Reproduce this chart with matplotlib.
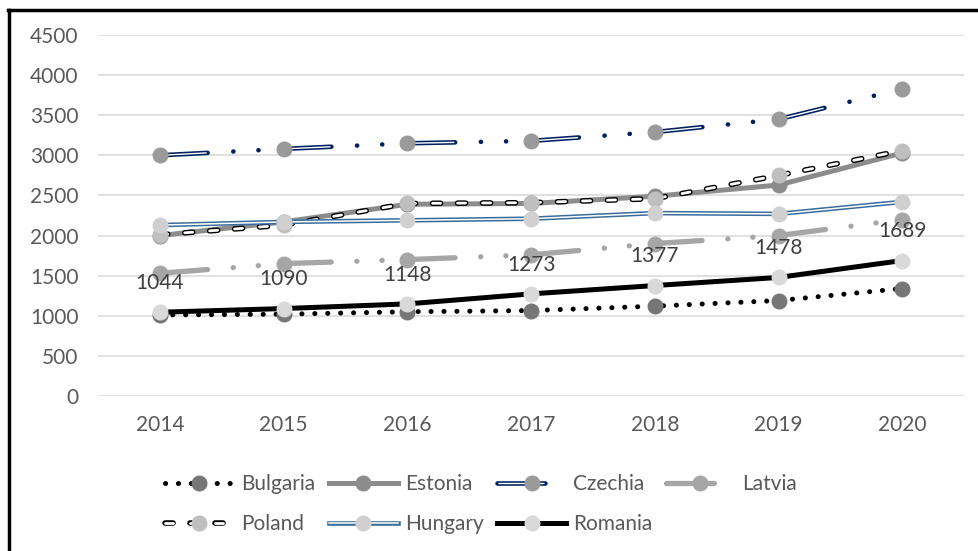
import matplotlib
matplotlib.use('Agg')
import matplotlib.pyplot as plt
from matplotlib.lines import Line2D

plt.rcParams['font.family'] = ['Lato', 'DejaVu Sans']
plt.rcParams['lines.scale_dashes'] = False

years = [2014, 2015, 2016, 2017, 2018, 2019, 2020]
bulgaria = [1010, 1020, 1050, 1065, 1120, 1190, 1340]
estonia = [2000, 2170, 2390, 2400, 2490, 2630, 3030]
czechia = [3000, 3080, 3150, 3180, 3290, 3450, 3830]
latvia = [1530, 1650, 1700, 1760, 1900, 2000, 2200]
poland = [2010, 2130, 2400, 2410, 2460, 2750, 3060]
hungary = [2130, 2170, 2190, 2210, 2280, 2270, 2420]
romania = [1044, 1090, 1148, 1273, 1377, 1478, 1689]

TXT = '#595959'
FS = 15

fig = plt.figure(figsize=(9.79, 5.51), dpi=100)
ax = fig.add_axes([0.1, 0.2813, 0.885, 0.6552])

ax.set_ylim(0, 4500)
ax.set_xlim(2013.5, 2020.5)
ax.set_yticks(range(0, 4501, 500))
ax.set_xticks(years)
ax.grid(axis='y', color='#d9d9d9', lw=1.1)
ax.set_axisbelow(True)
for s in ax.spines.values():
    s.set_visible(False)
ax.tick_params(length=0, labelsize=FS, labelcolor=TXT)
ax.tick_params(axis='y', pad=14)
ax.tick_params(axis='x', pad=14)

ms = 10.5
# dash-dot-dot pattern (points), roughly one category long
ddd = (0, (34.5, 18.5, 0.1, 18, 0.1, 18))
ddd_in = (88.2, (32.5, 56.7))

def markers(y, c):
    return ax.plot(years, y, 'o', ms=ms, color=c, mec=c, zorder=5)[0]

handles = {}

l = ax.plot(years, bulgaria, color='black', lw=3.6, ls=(0, (0.1, 9.2)),
            dash_capstyle='round', zorder=3)[0]
m = markers(bulgaria, '#767676')
handles['Bulgaria'] = (l, m)

l = ax.plot(years, estonia, color='#8c8c8c', lw=3.6, zorder=3)[0]
m = markers(estonia, '#8c8c8c')
handles['Estonia'] = (l, m)

l1 = ax.plot(years, czechia, color='#002060', lw=3.3, ls=ddd,
             dash_capstyle='round', zorder=3)[0]
l2 = ax.plot(years, czechia, color='white', lw=1.0, ls=ddd_in,
             dash_capstyle='round', zorder=3)[0]
m = markers(czechia, '#9a9a9a')
handles['Czechia'] = (l1, l2, m)

l = ax.plot(years, latvia, color='#a6a6a6', lw=3.8, ls=ddd,
            dash_capstyle='round', zorder=3)[0]
m = markers(latvia, '#a6a6a6')
handles['Latvia'] = (l, m)

l1 = ax.plot(years, poland, color='black', lw=4.0, ls=(0, (5.8, 12.2)),
             dash_capstyle='round', zorder=4)[0]
l2 = ax.plot(years, poland, color='white', lw=2.0, ls=(0, (5.8, 12.2)),
             dash_capstyle='round', zorder=4)[0]
m = markers(poland, '#bfbfbf')
handles['Poland'] = (l1, l2, m)

l1 = ax.plot(years, hungary, color='#3b6c9c', lw=3.3, zorder=4)[0]
l2 = ax.plot(years, hungary, color='white', lw=1.1, zorder=4)[0]
m = markers(hungary, '#d0d0d0')
handles['Hungary'] = (l1, l2, m)

l = ax.plot(years, romania, color='black', lw=3.6, zorder=4)[0]
m = markers(romania, '#d9d9d9')
handles['Romania'] = (l, m)

for x, v in zip(years, romania):
    ax.annotate(str(v), (x, v), xytext=(0, 21), textcoords='offset points',
                ha='center', va='center', fontsize=FS, color='#404040', zorder=6)

order = ['Bulgaria', 'Poland', 'Estonia', 'Hungary', 'Czechia', 'Romania', 'Latvia']
fig.legend([handles[k] for k in order], order, ncol=4, frameon=False,
           loc='upper left', bbox_to_anchor=(0.158, 0.158), fontsize=FS,
           labelcolor=TXT, handlelength=3.3, handletextpad=0.35,
           columnspacing=0.65, labelspacing=0.95, borderpad=0)

# outer frame (left and top edges only)
fig.add_artist(Line2D([0.0095, 0.0095], [0, 0.981], color='black', lw=2.5,
                      transform=fig.transFigure))
fig.add_artist(Line2D([0.0085, 1], [0.981, 0.981], color='black', lw=2.5,
                      transform=fig.transFigure))

fig.savefig('out.png', dpi=100)
